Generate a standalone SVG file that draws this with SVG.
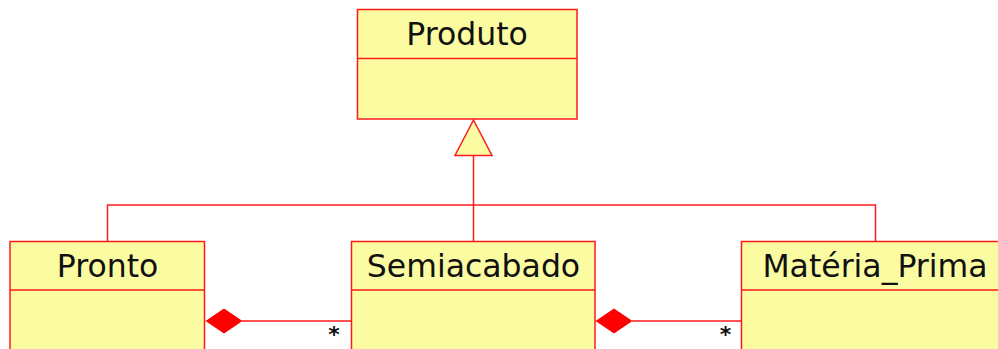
<svg xmlns="http://www.w3.org/2000/svg" width="998" height="349" viewBox="0 0 998 349">
<style>
.box{fill:#FBFBA2;stroke:#FF1A1A;stroke-width:1.5}
.ln{fill:none;stroke:#FF1A1A;stroke-width:1.5}
.t{font-family:"DejaVu Sans",Verdana,sans-serif;font-size:31.5px;fill:#111;text-anchor:middle}
.m{font-family:"DejaVu Sans",sans-serif;font-size:22px;font-weight:bold;fill:#111;text-anchor:middle}
.dia{fill:#FF0000;stroke:none}
</style>
<rect width="998" height="349" fill="#fff"/>
<g id="connectors">
<polyline class="ln" points="107.5,241.5 107.5,205 875.5,205 875.5,241.5"/>
<line class="ln" x1="473.5" y1="155.5" x2="473.5" y2="241.5"/>
<polygon class="box" points="473.5,120 455,155.5 492,155.5"/>
<line class="ln" x1="242" y1="321" x2="351.5" y2="321"/>
<polygon class="dia" points="205.5,321 224,308.5 242.5,321 224,333.5"/>
<text class="m" x="334" y="342">*</text>
<line class="ln" x1="632" y1="321" x2="741.5" y2="321"/>
<polygon class="dia" points="595.5,321 614,308.5 632.5,321 614,333.5"/>
<text class="m" x="725.5" y="342">*</text>
</g>
<g id="Produto">
<rect class="box" x="357.5" y="9.5" width="219.5" height="109.5"/>
<line class="ln" x1="357.5" y1="58.5" x2="577" y2="58.5"/>
<text class="t" x="467" y="45">Produto</text>
</g>
<g id="Pronto">
<rect class="box" x="10" y="241.5" width="194.5" height="120"/>
<line class="ln" x1="10" y1="290" x2="204.5" y2="290"/>
<text class="t" x="107.5" y="277">Pronto</text>
</g>
<g id="Semiacabado">
<rect class="box" x="351.5" y="241.5" width="243.5" height="120"/>
<line class="ln" x1="351.5" y1="290" x2="595" y2="290"/>
<text class="t" x="473.5" y="277">Semiacabado</text>
</g>
<g id="Materia_Prima">
<rect class="box" x="741.5" y="241.5" width="268" height="120"/>
<line class="ln" x1="741.5" y1="290" x2="1009.5" y2="290"/>
<text class="t" x="875" y="277">Matéria_Prima</text>
</g>
</svg>
